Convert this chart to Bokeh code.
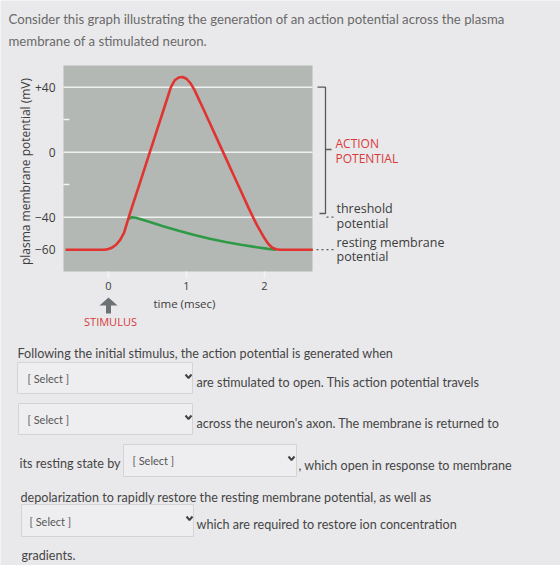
import math
from bokeh.plotting import figure
from bokeh.models import Range1d, FixedTicker
from bokeh.embed import file_html
from bokeh.resources import INLINE
from bokeh.core.properties import value

# ---------------- data ----------------
time_red = [-0.55, -0.05, 0.0, 0.05, 0.1, 0.15, 0.2, 0.26, 0.3, 0.4, 0.5, 0.6, 0.7, 0.8,
            0.85, 0.9, 0.95, 1.0, 1.05, 1.1, 1.2, 1.3, 1.4, 1.5, 1.6, 1.7, 1.8, 1.9,
            2.0, 2.05, 2.1, 2.15, 2.2, 2.62]
mv_red = [-60, -60, -59.6, -58.6, -56.8, -54, -49.5, -40, -34, -19.3, -4.4, 10.4, 25.2, 40,
          44.3, 46, 46.3, 45.2, 42.5, 38.5, 28.3, 17.8, 7.3, -3.2, -13.7, -24.2, -34.7, -44.6,
          -53, -56.5, -58.8, -59.7, -60, -60]
time_green = [0.26, 0.3, 0.35, 0.5, 0.7, 0.9, 1.1, 1.3, 1.5, 1.7, 1.9, 2.05, 2.15]
mv_green = [-41, -40, -40.3, -42.5, -45.5, -48.3, -51, -53.3, -55.3, -57, -58.5, -59.5, -60]

x_ticks = [0, 1, 2]
y_ticks = [40, 0, -40, -60]
y_minor = [20, -20]
grid_levels = [40, 0, -40]
threshold_mv = -40
resting_mv = -60

title_lines = ["Consider this graph illustrating the generation of an action potential across the plasma",
               "membrane of a stimulated neuron."]
action_labels = ["ACTION", "POTENTIAL"]
right_labels = ["threshold", "potential", "resting membrane", "potential"]
body_lines = ["Following the initial stimulus, the action potential is generated when",
              "are stimulated to open. This action potential travels",
              "across the neuron's axon. The membrane is returned to",
              "its resting state by",
              ", which open in response to membrane",
              "depolarization to rapidly restore the resting membrane potential, as well as",
              "which are required to restore ion concentration",
              "gradients."]
select_text = "[ Select ]"

# ---------------- page geometry (pixels of the page -> chart units) ----------------
T0, TS = 108.0, 78.0      # page x of t=0, pixels per ms
V0, VS = 151.7, 1.625     # page y of 0 mV, pixels per mV


def tx(px):
    return (px - T0) / TS


def vy(py):
    return (V0 - py) / VS


PAGE = "#e9e9eb"
GRAY = "#b3b8b5"
RED = "#e1332f"
GREEN = "#2f9a46"
DARK = "#3c3c3c"
BODY = "#454545"

p = figure(width=560, height=565, x_range=Range1d(tx(0), tx(560)), y_range=Range1d(vy(565), vy(0)),
           output_backend="svg", toolbar_location=None, min_border=0)
p.background_fill_color = PAGE
p.border_fill_color = PAGE
p.outline_line_color = None
p.grid.visible = False

GL, GR, GT, GB = tx(63), tx(312), vy(65), vy(271)

# gray plotting panel and its grid lines
p.quad(left=[GL], right=[GR], top=[GT], bottom=[GB], fill_color=GRAY, line_color=None)
p.segment(x0=[GL] * len(grid_levels), x1=[GR] * len(grid_levels),
          y0=grid_levels, y1=grid_levels, line_color="#eef1f0", line_width=1.6)

# curves
p.line(time_green, mv_green, line_color=GREEN, line_width=2.6)
p.line(time_red, mv_red, line_color=RED, line_width=2.6, line_join="round")

# axes, pinned to the panel edges
xa = p.xaxis[0]
xa.fixed_location = GB
xa.ticker = FixedTicker(ticks=x_ticks)
xa.axis_line_color = None
xa.major_tick_in = 0
xa.major_tick_out = 7
xa.major_tick_line_color = "#f4f4f4"
xa.major_tick_line_width = 1.5
xa.minor_tick_line_color = None
xa.major_label_standoff = 3
xa.major_label_text_font = "Open Sans"
xa.major_label_text_font_size = "11px"
xa.major_label_text_color = DARK

ya = p.yaxis[0]
ya.fixed_location = GL
ya.ticker = FixedTicker(ticks=y_ticks, minor_ticks=y_minor)
ya.major_label_overrides = {40: "+40"}
ya.axis_line_color = None
ya.major_tick_line_color = None
ya.minor_tick_in = 6
ya.minor_tick_out = 0
ya.minor_tick_line_color = "#f4f4f4"
ya.minor_tick_line_width = 1.5
ya.major_label_standoff = 2
ya.major_label_text_font = "Open Sans"
ya.major_label_text_font_size = "12px"
ya.major_label_text_color = DARK

# axis titles
p.text(x=[tx(25)], y=[vy(171)], text=["plasma membrane potential (mV)"], angle=math.pi / 2,
       text_color=DARK, text_font=value("Open Sans"), text_font_size="12px",
       text_align="center", text_baseline="middle")
p.text(x=[tx(153)], y=[vy(303)], text=["time (msec)"], text_color=DARK,
       text_font=value("Open Sans"), text_font_size="11.5px", text_baseline="middle")

# stimulus arrow and label
arrow_x = [99, 108, 117, 110.5, 110.5, 105.5, 105.5]
arrow_y = [305, 297, 305, 305, 313, 313, 305]
p.patch(x=[tx(a) for a in arrow_x], y=[vy(b) for b in arrow_y], fill_color="#6c7173", line_color=None)
p.text(x=[tx(110)], y=[vy(321)], text=["STIMULUS"], text_color="#d63a3c",
       text_font=value("Open Sans"), text_font_size="11px", text_align="center",
       text_baseline="middle")

# bracket and level markers
BR = "#5a5a5a"
p.line([tx(317), tx(325), tx(325), tx(319)], [40, 40, vy(213), vy(213)], line_color=BR, line_width=1.3)
p.segment(x0=[tx(325)], x1=[tx(331)], y0=[vy(149)], y1=[vy(149)], line_color=BR, line_width=1.3)
p.segment(x0=[tx(326)], x1=[tx(334)], y0=[threshold_mv], y1=[threshold_mv], line_color=BR,
          line_width=1.3, line_dash="2 3")
p.segment(x0=[tx(316)], x1=[tx(333)], y0=[resting_mv], y1=[resting_mv], line_color=BR,
          line_width=1.3, line_dash="2 3")

p.text(x=[tx(335)] * 2, y=[vy(143), vy(158)], text=action_labels, text_color="#d93a3c",
       text_font=value("Open Sans"), text_font_size="12px", text_baseline="middle")
p.text(x=[tx(336)] * 4, y=[vy(208), vy(223), vy(242), vy(256)], text=right_labels,
       text_color=DARK, text_font=value("Open Sans"), text_font_size="12.5px",
       text_baseline="middle")

# question title
p.text(x=[tx(8)] * 2, y=[vy(18), vy(40)], text=title_lines, text_color="#6a6a6a",
       text_font=value("Lato"), text_font_size="13.2px", text_baseline="middle")

# select boxes
box_l = [17, 18, 123, 21]
box_r = [192, 192, 296, 193]
box_t = [362, 403, 444, 504]
box_b = [393, 434, 476, 536]
p.quad(left=[tx(a) for a in box_l], right=[tx(a) for a in box_r],
       top=[vy(a) for a in box_t], bottom=[vy(a) for a in box_b],
       fill_color="#eeeef0", line_color="#d4d4d7", line_width=1)
sel_x = [27, 27, 132, 29]
sel_y = [378, 419, 460, 521]
p.text(x=[tx(a) for a in sel_x], y=[vy(a) for a in sel_y], text=[select_text] * 4,
       text_color="#555555", text_font=value("Lato"), text_font_size="11px", text_baseline="middle")
cx = [188, 188, 291, 189]
cy = [376, 417, 458, 518]
p.multi_line(xs=[[tx(c - 3), tx(c), tx(c + 3)] for c in cx],
             ys=[[vy(c - 2), vy(c + 1.5), vy(c - 2)] for c in cy],
             line_color="#444444", line_width=2)

# body text
bx = [17, 196, 196, 19, 298, 20, 196, 21]
by = [353, 382, 423, 463, 465, 497, 524, 555]
p.text(x=[tx(a) for a in bx], y=[vy(a) for a in by], text=body_lines, text_color=BODY,
       text_font=value("Lato"), text_font_size="12.6px", text_baseline="middle")

open("out.html", "w").write(file_html(p, INLINE))
